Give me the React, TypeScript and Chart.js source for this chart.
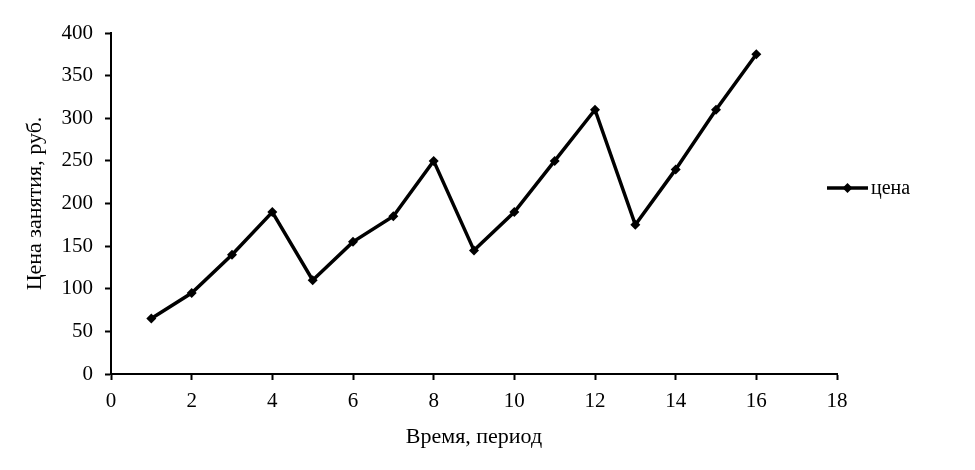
import React, { useEffect, useRef } from "react";
import { Chart, registerables } from "chart.js";

Chart.register(...registerables);

const periods = [1, 2, 3, 4, 5, 6, 7, 8, 9, 10, 11, 12, 13, 14, 15, 16];
const prices = [65, 95, 140, 190, 110, 155, 185, 250, 145, 190, 250, 310, 175, 240, 310, 375];
const seriesName = "цена";
const xTitle = "Время, период";
const yTitle = "Цена занятия, руб.";

const FONT = "'Liberation Serif', 'Times New Roman', serif";

const legendPlugin = {
  id: "customLegend",
  afterDraw(chart: any) {
    const ctx = chart.ctx;
    const x0 = 827;
    const x1 = 868;
    const y = 188;
    ctx.save();
    ctx.strokeStyle = "#000";
    ctx.lineWidth = 3.5;
    ctx.beginPath();
    ctx.moveTo(x0, y);
    ctx.lineTo(x1, y);
    ctx.stroke();
    const mx = (x0 + x1) / 2;
    const r = 5;
    ctx.fillStyle = "#000";
    ctx.beginPath();
    ctx.moveTo(mx, y - r);
    ctx.lineTo(mx + r, y);
    ctx.lineTo(mx, y + r);
    ctx.lineTo(mx - r, y);
    ctx.closePath();
    ctx.fill();
    ctx.font = `20px ${FONT}`;
    ctx.textBaseline = "middle";
    ctx.textAlign = "left";
    ctx.fillText(seriesName, x1 + 3, y + 1);
    ctx.restore();
  },
};

export default function App() {
  const ref = useRef<HTMLCanvasElement>(null);
  useEffect(() => {
    if (!ref.current) return;
    const chart = new Chart(ref.current, {
      type: "line",
      data: {
        datasets: [
          {
            label: seriesName,
            data: periods.map((p, i) => ({ x: p, y: prices[i] })),
            borderColor: "#000",
            backgroundColor: "#000",
            borderWidth: 3.5,
            pointStyle: "rectRot",
            pointRadius: 5,
            pointBorderWidth: 0,
            pointBackgroundColor: "#000",
            tension: 0,
          },
        ],
      },
      options: {
        animation: false,
        responsive: false,
        layout: { padding: { left: 0, right: 138, top: 33, bottom: 0 } },
        plugins: {
          legend: { display: false },
          tooltip: { enabled: false },
        },
        scales: {
          x: {
            type: "linear",
            min: 0,
            max: 18,
            ticks: { stepSize: 2, color: "#000", font: { family: FONT, size: 21 }, padding: 9, maxRotation: 0 },
            grid: { drawOnChartArea: false, drawTicks: true, tickLength: 6, tickWidth: 2, tickColor: "#000", color: "#000" },
            border: { display: true, color: "#000", width: 2 },
            title: { display: true, text: xTitle, color: "#000", font: { family: FONT, size: 22 }, padding: { top: 0, bottom: 20 } },
            afterFit: (s: any) => {
              s.height = 96;
            },
          },
          y: {
            type: "linear",
            min: 0,
            max: 400,
            ticks: { stepSize: 50, color: "#000", font: { family: FONT, size: 21 }, padding: 12 },
            grid: { drawOnChartArea: false, drawTicks: true, tickLength: 6, tickWidth: 2, tickColor: "#000", color: "#000" },
            border: { display: true, color: "#000", width: 2 },
            title: { display: true, text: yTitle, color: "#000", font: { family: FONT, size: 22 }, padding: { top: 22, bottom: 0 } },
            afterFit: (s: any) => {
              s.width = 111;
            },
          },
        },
      },
      plugins: [legendPlugin],
    });
    return () => chart.destroy();
  }, []);
  return (
    <div style={{ position: "fixed", left: 0, top: 0, width: 975, height: 470, background: "#fff" }}>
      <canvas ref={ref} width={975} height={470} style={{ width: 975, height: 470 }} />
    </div>
  );
}
